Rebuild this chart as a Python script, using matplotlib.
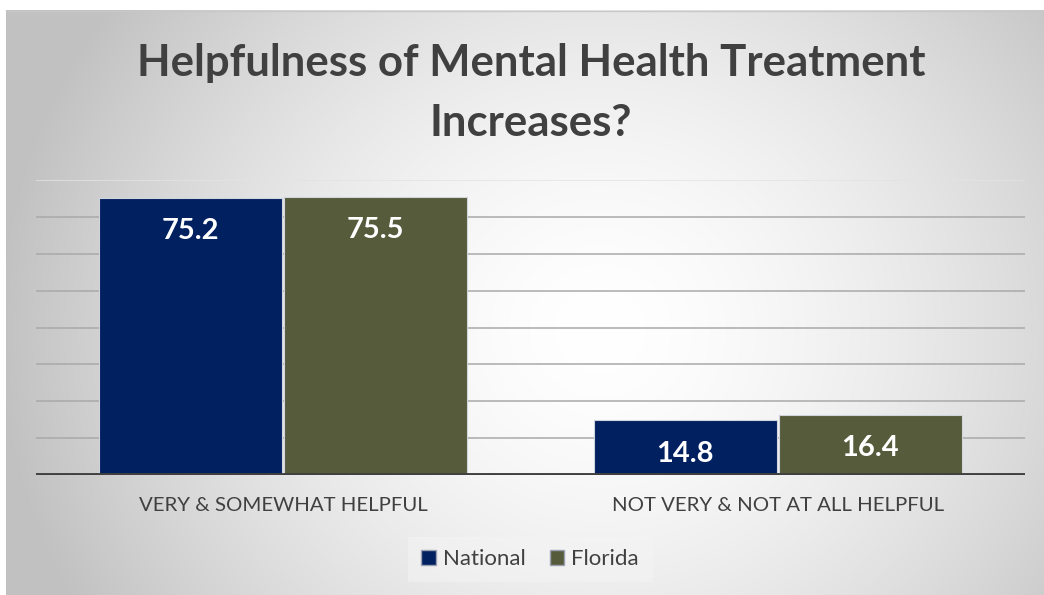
import numpy as np
import matplotlib
matplotlib.use("Agg")
import matplotlib.pyplot as plt
from matplotlib.patches import Rectangle

categories = ["VERY & SOMEWHAT HELPFUL", "NOT VERY & NOT AT ALL HELPFUL"]
series_names = ["National", "Florida"]
national = [75.2, 14.8]
florida = [75.5, 16.4]
colors = ["#002060", "#565B3C"]
title = "Helpfulness of Mental Health Treatment\nIncreases?"

W, H = 1044, 595
fig = plt.figure(figsize=(W / 100, H / 100), dpi=100)
fig.patch.set_facecolor("white")

# background radial gradient
bg = fig.add_axes([0, 0, 1, 1], zorder=-10)
yy, xx = np.mgrid[0:H, 0:W]
cx, cy = 600, 330
r = np.sqrt(((xx - cx) / 600.0) ** 2 + ((yy - cy) / 560.0) ** 2)
val = 1.0 - 0.24 * np.clip(r, 0, 1) ** 1.6
img = np.dstack([val, val, val])
img[:10, :, :] = 1.0
img[:, :6, :] = 1.0
bg.imshow(img, extent=[0, W, H, 0], aspect="auto", interpolation="bilinear")
bg.set_xlim(0, W)
bg.set_ylim(H, 0)
bg.axis("off")
bg.plot([6, W], [10.5, 10.5], color="#c8c8c8", lw=1)

# main axes: x 36..1025 px, y 180..475 px
ax = fig.add_axes([36 / W, 1 - 475 / H, (1025 - 36) / W, (475 - 180) / H])
ax.patch.set_alpha(0)
x = np.arange(len(categories))
bw = 0.374
ax.set_xlim(-0.5, 1.5)
ax.set_ylim(0, 80)
for yv in range(10, 81, 10):
    ax.axhline(yv, color="#e3e3e3" if yv == 80 else "#a9a9a9", lw=1.1, zorder=0)

for i, (vals, c) in enumerate(zip([national, florida], colors)):
    offs = (i - 0.5) * bw
    ax.bar(x + offs, vals, width=bw - 0.004, color=c, edgecolor="#d0d4dc",
           linewidth=0.8, zorder=2, label=series_names[i])
    for xi, v in zip(x + offs, vals):
        ax.text(xi, v - 9.0, f"{v:.1f}", ha="center", va="center", color="white",
                fontsize=21, fontweight="bold", family="Lato", zorder=3)

ax.axhline(0, color="#404040", lw=2.8, zorder=4)
for s in ax.spines.values():
    s.set_visible(False)
ax.set_yticks([])
ax.set_xticks(x)
ax.set_xticklabels(categories, fontsize=14.7, color="#404040", family="Lato")
ax.tick_params(axis="x", length=0, pad=16)

fig.text(531 / W, 1 - 93 / H, title, ha="center", va="center", fontsize=31.5,
         fontweight="bold", color="#404040", family="Lato", linespacing=1.6)

# legend
lg_ax = fig.add_axes([408 / W, 1 - 582 / H, 245 / W, 45 / H])
lg_ax.set_xlim(0, 245)
lg_ax.set_ylim(45, 0)
lg_ax.axis("off")
lg_ax.add_patch(Rectangle((0, 0), 245, 45, color="#f4f4f4", alpha=0.5, zorder=0))
handles = [Rectangle((0, 0), 1, 1, facecolor=c, edgecolor="#9aa0b0") for c in colors]
leg = fig.legend(handles, series_names, loc="center", bbox_to_anchor=(530 / W, 1 - 559 / H),
                 ncol=2, frameon=False, prop={"family": "Lato", "size": 16},
                 handlelength=0.65, handleheight=0.65, handletextpad=0.3, columnspacing=1.1)
for t in leg.get_texts():
    t.set_color("#404040")

fig.savefig("out.png", dpi=100)
